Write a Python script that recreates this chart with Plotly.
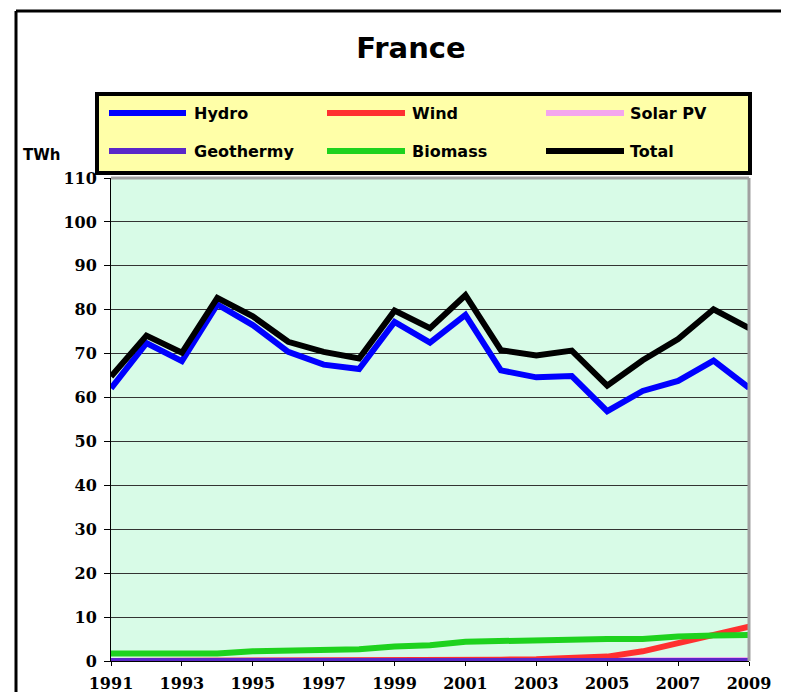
import plotly.graph_objects as go

# ---------------- data ----------------
years = list(range(1991, 2010))
series_names = ["Hydro", "Wind", "Solar PV", "Geothermy", "Biomass", "Total"]
hydro = [62.1, 72.4, 68.3, 81.2, 76.5, 70.4, 67.5, 66.5, 77.2, 72.5,
         78.8, 66.2, 64.6, 64.9, 56.9, 61.5, 63.8, 68.4, 62.2]
wind = [0.0, 0.0, 0.0, 0.0, 0.0, 0.0, 0.0, 0.0, 0.0, 0.1,
        0.1, 0.3, 0.4, 0.6, 1.0, 2.2, 4.1, 5.7, 7.8]
solar_pv = [0.0, 0.0, 0.0, 0.0, 0.0, 0.0, 0.0, 0.0, 0.0, 0.0,
            0.0, 0.0, 0.0, 0.0, 0.0, 0.0, 0.0, 0.05, 0.2]
geothermy = [0.0, 0.0, 0.0, 0.0, 0.0, 0.0, 0.0, 0.0, 0.0, 0.0,
             0.0, 0.0, 0.0, 0.0, 0.0, 0.0, 0.0, 0.0, 0.0]
biomass = [1.7, 1.7, 1.6, 1.7, 2.2, 2.4, 2.7, 2.7, 3.3, 3.6,
           4.4, 4.6, 4.8, 5.0, 5.0, 5.0, 5.6, 5.8, 5.9]
total = [64.8, 74.1, 70.2, 82.7, 78.5, 72.7, 70.4, 68.9, 79.8, 75.8,
         83.3, 70.8, 69.6, 70.7, 62.7, 68.5, 73.3, 80.1, 75.8]
x_tick_years = list(range(1991, 2010, 2))
y_ticks = list(range(0, 111, 10))

# ---------------- styles ----------------
colors = {
    "Hydro": "#0000ff",
    "Wind": "#ff3030",
    "Solar PV": "#f4a6ee",
    "Geothermy": "#5a28c8",
    "Biomass": "#1ed21e",
    "Total": "#000000",
}
values = {
    "Hydro": hydro, "Wind": wind, "Solar PV": solar_pv,
    "Geothermy": geothermy, "Biomass": biomass, "Total": total,
}
draw_order = ["Solar PV", "Wind", "Biomass", "Hydro", "Total", "Geothermy"]

# page body has an 8px margin; work in window pixels and convert
OFF = 8
W, H = 789, 692
L, R, T, B = 111, 749, 178, 661  # plot area in window pixels


def px(x):
    return (x - L) / (R - L)


def py(y):
    return (B - y) / (B - T)


fig = go.Figure()
for name in draw_order:
    fig.add_trace(go.Scatter(
        x=years, y=values[name], mode="lines", name=name,
        line=dict(color=colors[name], width=6), showlegend=False,
    ))

shapes = []
annotations = []

# outer frame (cropped at right / bottom)
shapes.append(dict(type="line", xref="paper", yref="paper",
                   x0=px(16), x1=px(820), y0=py(11), y1=py(11),
                   line=dict(color="black", width=3)))
shapes.append(dict(type="line", xref="paper", yref="paper",
                   x0=px(16), x1=px(16), y0=py(11), y1=py(720),
                   line=dict(color="black", width=3)))

# plot area top / right border (grey)
shapes.append(dict(type="line", xref="paper", yref="paper",
                   x0=0, x1=1, y0=1, y1=1, layer="above",
                   line=dict(color="#a0a0a0", width=3)))
shapes.append(dict(type="line", xref="paper", yref="paper",
                   x0=1, x1=1, y0=0, y1=1, layer="above",
                   line=dict(color="#a0a0a0", width=3)))

# legend box
shapes.append(dict(type="rect", xref="paper", yref="paper",
                   x0=px(97), x1=px(750), y0=py(173), y1=py(94),
                   fillcolor="#ffffa8", line=dict(color="black", width=4),
                   layer="above"))

legend_layout = [
    ("Hydro", 109, 186, 192, 113),
    ("Wind", 327, 405, 410, 113),
    ("Solar PV", 546, 624, 628, 113),
    ("Geothermy", 109, 186, 192, 151),
    ("Biomass", 327, 405, 410, 151),
    ("Total", 546, 624, 628, 151),
]
for name, lx0, lx1, tx, yy in legend_layout:
    shapes.append(dict(type="line", xref="paper", yref="paper",
                       x0=px(lx0), x1=px(lx1), y0=py(yy), y1=py(yy),
                       line=dict(color=colors[name], width=6), layer="above"))
    annotations.append(dict(
        text=name, xref="paper", yref="paper", x=px(tx), y=py(yy),
        xanchor="left", yanchor="middle", showarrow=False,
        font=dict(family="DejaVu Sans", size=16, color="black", weight="bold"),
    ))

annotations.append(dict(
    text="TWh", xref="paper", yref="paper", x=px(21), y=py(155),
    xanchor="left", yanchor="middle", showarrow=False,
    font=dict(family="DejaVu Sans", size=15, color="black", weight="bold"),
))

fig.update_layout(
    width=W, height=H,
    margin=dict(l=L - OFF, r=W - (R - OFF), t=T - OFF, b=H - (B - OFF), pad=0),
    paper_bgcolor="white",
    plot_bgcolor="#d8fbe7",
    title=dict(
        text="France", x=(411 - OFF) / W, xref="container", xanchor="center",
        y=1 - (48 - OFF) / H, yref="container", yanchor="middle",
        font=dict(family="DejaVu Sans", size=29, color="black", weight="bold"),
    ),
    shapes=shapes,
    annotations=annotations,
    showlegend=False,
)

fig.update_xaxes(
    range=[1991, 2009], tickmode="array", tickvals=x_tick_years,
    ticktext=[str(y) for y in x_tick_years],
    ticks="outside", ticklen=4, tickcolor="black",
    ticklabelstandoff=4, automargin=False,
    showline=True, linecolor="black", linewidth=1,
    showgrid=False, zeroline=False,
    tickfont=dict(family="DejaVu Serif", size=16, color="black", weight="bold"),
)
fig.update_yaxes(
    range=[0, 110], tickmode="array", tickvals=y_ticks,
    ticks="outside", ticklen=6, tickcolor="black",
    ticklabelstandoff=4, automargin=False,
    showline=True, linecolor="black", linewidth=1,
    showgrid=True, gridcolor="#333333", gridwidth=1, zeroline=False,
    tickfont=dict(family="DejaVu Serif", size=16, color="black", weight="bold"),
)

fig.write_html("out.html")
